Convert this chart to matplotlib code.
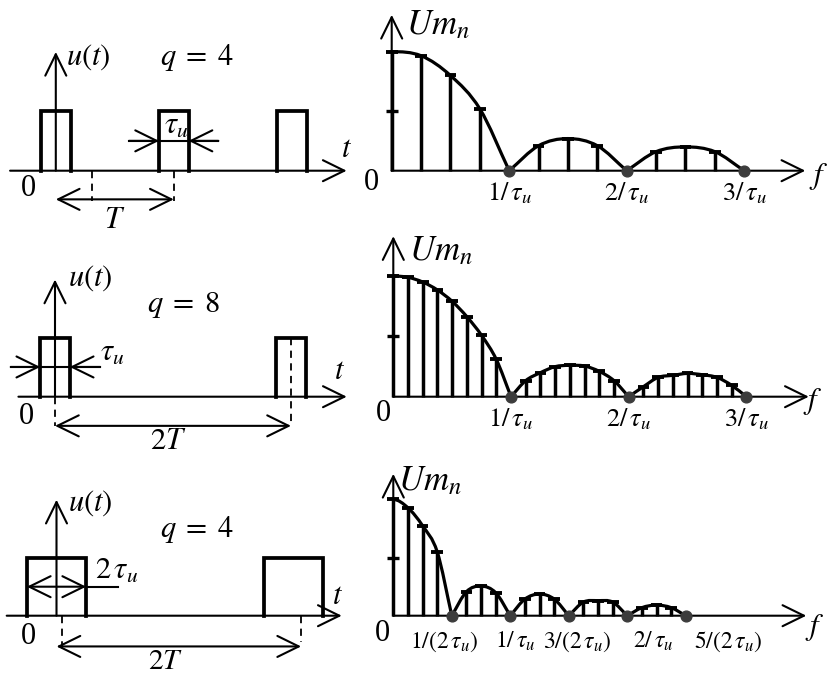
import numpy as np
import matplotlib.pyplot as plt
from matplotlib.path import Path
from matplotlib.patches import PathPatch

plt.rcParams['font.family'] = ['Liberation Serif', 'DejaVu Serif']
plt.rcParams['mathtext.fontset'] = 'stix'

W, H = 829, 675

# ---- time-domain pulses (time in units of tau_u, amplitude 1) ----
centers_1 = [0, 4, 8]
width_1 = 1
centers_2 = [0, 8]
width_2 = 1
centers_3 = [0, 8]
width_3 = 2

# ---- spectra (frequency in units of 1/tau_u, amplitude relative) ----
freq_1 = [0, 0.25, 0.5, 0.75, 1.25, 1.5, 1.75, 2.25, 2.5, 2.75]
amp_1 = [1.0, 0.966, 0.80, 0.52, 0.21, 0.27, 0.21, 0.16, 0.20, 0.16]
zeros_1 = [1, 2, 3]

freq_2 = [0, 0.125, 0.25, 0.375, 0.5, 0.625, 0.75, 0.875,
          1.125, 1.25, 1.375, 1.5, 1.625, 1.75, 1.875,
          2.125, 2.25, 2.375, 2.5, 2.625, 2.75, 2.875]
amp_2 = [1.0, 0.989, 0.95, 0.884, 0.79, 0.663, 0.508, 0.309,
         0.133, 0.199, 0.249, 0.26, 0.254, 0.21, 0.133,
         0.083, 0.16, 0.177, 0.193, 0.182, 0.16, 0.094]
zeros_2 = [1, 2, 3]

freq_3 = [0, 0.125, 0.25, 0.375, 0.625, 0.75, 0.875, 1.125, 1.25, 1.375,
          1.625, 1.75, 1.875, 2.125, 2.25, 2.375]
amp_3 = [1.0, 0.928, 0.774, 0.55, 0.206, 0.255, 0.198, 0.143, 0.186, 0.143,
         0.117, 0.129, 0.117, 0.069, 0.092, 0.069]
zeros_3 = [0.5, 1, 1.5, 2, 2.5]

labels_12 = [r'$1/\,\tau_u$', r'$2/\,\tau_u$', r'$3/\,\tau_u$']
labels_3 = [r'$1/(2\,\tau_u)$', r'$1/\,\tau_u$', r'$3/(2\,\tau_u)$',
            r'$2/\,\tau_u$', r'$5/(2\,\tau_u)$']

fig = plt.figure(figsize=(W / 100, H / 100), dpi=100)


def panel(box, origin, scale):
    # box in picture pixels (x0, y0, x1, y1), origin = pixel of data (0, 0)
    x0, y0, x1, y1 = box
    ax = fig.add_axes([x0 / W, 1 - y1 / H, (x1 - x0) / W, (y1 - y0) / H])
    ox, oy = origin
    sx, sy = scale
    ax.set_xlim((x0 - ox) / sx, (x1 - ox) / sx)
    ax.set_ylim((oy - y1) / sy, (oy - y0) / sy)
    ax.axis('off')
    return ax


def arrow(ax, p0, p1, style='->', lw=1.5):
    ax.annotate('', xy=p1, xytext=p0,
                arrowprops=dict(arrowstyle=style + ',head_length=0.55,head_width=0.27',
                                lw=lw, color='black', shrinkA=0, shrinkB=0,
                                mutation_scale=28))


def pulses(ax, centers, width):
    for c in centers:
        ax.plot([c - width / 2, c - width / 2, c + width / 2, c + width / 2],
                [0, 1, 1, 0], color='black', lw=2.7, solid_joinstyle='miter')


def envelope(ax, xs, ys, start_flat):
    # smooth curve through the points (Catmull-Rom -> cubic Bezier)
    xs = list(xs)
    ys = list(ys)
    if start_flat:
        px, py = [2 * xs[0] - xs[1]], [ys[1]]
    else:
        px, py = [2 * xs[0] - xs[1]], [2 * ys[0] - ys[1]]
    px = px + xs + [2 * xs[-1] - xs[-2]]
    py = py + ys + [2 * ys[-1] - ys[-2]]
    verts = [(xs[0], ys[0])]
    codes = [Path.MOVETO]
    for i in range(1, len(px) - 2):
        p0 = np.array([px[i - 1], py[i - 1]])
        p1 = np.array([px[i], py[i]])
        p2 = np.array([px[i + 1], py[i + 1]])
        p3 = np.array([px[i + 2], py[i + 2]])
        verts += [tuple(p1 + (p2 - p0) / 6), tuple(p2 - (p3 - p1) / 6), tuple(p2)]
        codes += [Path.CURVE4] * 3
    ax.add_patch(PathPatch(Path(verts, codes), fill=False, lw=2.3,
                           edgecolor='black', capstyle='round'))


def spectrum(ax, freq, amp, zeros, ytop, xtip, cap=0.05):
    arrow(ax, (0, 0), (xtip, 0))
    arrow(ax, (0, 0), (0, ytop))
    ax.vlines(freq, 0, amp, color='black', lw=2.5)
    ax.hlines(amp, np.array(freq) - cap, np.array(freq) + cap, color='black', lw=2.8)
    ax.hlines([0.5], -cap, cap, color='black', lw=2.4)
    # envelope, lobe by lobe
    bounds = [0] + list(zeros)
    for k in range(len(bounds) - 1):
        lo, hi = bounds[k], bounds[k + 1]
        pts = [(f, a) for f, a in zip(freq, amp) if lo <= f < hi]
        if k > 0:
            pts = [(lo, 0.0)] + pts
        pts = pts + [(hi, 0.0)]
        envelope(ax, [p[0] for p in pts], [p[1] for p in pts], start_flat=(k == 0))
    ax.scatter(zeros, np.zeros(len(zeros)), s=60, color='#3c3c3c', zorder=5)


txt = dict(fontsize=22, color='black', ha='center', va='center')

# ---------------- top row ----------------
ax = panel((0, 0, 360, 225), (55.8, 170.7), (29.5, 59.7))
arrow(ax, (-1.55, 0), (9.86, 0))
arrow(ax, (0, 0), (0, 1.99))
pulses(ax, centers_1, width_1)
ax.plot([1.23, 1.23], [0, -0.5], 'k--', lw=1.3, dashes=(4, 3))
ax.plot([4, 4], [0, -0.5], 'k--', lw=1.3, dashes=(4, 3))
arrow(ax, (0, -0.48), (4, -0.48), style='<->')
ax.plot([2.48, 5.51], [0.5, 0.5], color='black', lw=1.5)
arrow(ax, (2.48, 0.5), (3.5, 0.5))
arrow(ax, (5.51, 0.5), (4.5, 0.5))
ax.text(1.09, 1.90, r'$u(t)$', **txt)
ax.text(4.79, 1.90, r'$q\;=\;4$', **txt)
ax.text(4.10, 0.74, r'$\tau_u$', **txt)
ax.text(9.87, 0.36, r'$t$', **txt)
ax.text(-0.94, -0.29, '0', **txt)
ax.text(2.0, -0.83, r'$T$', **txt)

ax = panel((360, 0, 829, 225), (391.7, 170.7), (117.5, 119))
spectrum(ax, freq_1, amp_1, zeros_1, 1.31, 3.52)
ax.text(0.12, 1.22, r'$Um_n$', fontsize=25, ha='left', va='center')
ax.text(-0.17, -0.10, '0', **txt)
ax.text(3.63, -0.05, r'$f$', **txt)
for z, lab in zip(zeros_1, labels_12):
    ax.text(z, -0.19, lab, fontsize=19, ha='center', va='center')

# ---------------- middle row ----------------
ax = panel((0, 225, 360, 450), (55, 396.7), (29.5, 58.3))
arrow(ax, (-1.24, 0), (9.89, 0))
arrow(ax, (0, 0), (0, 2.01))
pulses(ax, centers_2, width_2)
ax.plot([0, 0], [0, -0.51], 'k--', lw=1.3, dashes=(4, 3))
ax.plot([8, 8], [1, -0.51], 'k--', lw=1.3, dashes=(4, 3))
arrow(ax, (0, -0.5), (8, -0.5), style='<->')
ax.plot([-1.5, 1.53], [0.51, 0.51], color='black', lw=1.5)
arrow(ax, (-1.5, 0.51), (-0.5, 0.51))
arrow(ax, (1.53, 0.51), (0.5, 0.51))
ax.text(1.19, 2.04, r'$u(t)$', **txt)
ax.text(4.34, 1.57, r'$q\;=\;8$', **txt)
ax.text(1.93, 0.74, r'$\tau_u$', **txt)
ax.text(9.66, 0.43, r'$t$', **txt)
ax.text(-0.96, -0.34, '0', **txt)
ax.text(3.83, -0.76, r'$2T$', **txt)

ax = panel((360, 225, 829, 450), (393.3, 396.7), (117.7, 120.7))
spectrum(ax, freq_2, amp_2, zeros_2, 1.33, 3.53)
ax.text(0.13, 1.20, r'$Um_n$', fontsize=25, ha='left', va='center')
ax.text(-0.085, -0.14, '0', **txt)
ax.text(3.56, -0.04, r'$f$', **txt)
for z, lab in zip(zeros_2, labels_12):
    ax.text(z, -0.19, lab, fontsize=19, ha='center', va='center')

# ---------------- bottom row ----------------
ax = panel((0, 450, 360, 675), (56.5, 615.7), (29.65, 58))
arrow(ax, (-1.68, 0), (9.62, 0))
arrow(ax, (0, 0), (0, 2.0))
pulses(ax, centers_3, width_3)
ax.plot([0.2, 0.2], [0, -0.64], 'k--', lw=1.3, dashes=(4, 3))
ax.plot([8.25, 8.25], [0, -0.45], 'k--', lw=1.3, dashes=(4, 3))
arrow(ax, (0, -0.53), (8.25, -0.53), style='<->')
ax.plot([1, 2.08], [0.5, 0.5], color='black', lw=1.5)
arrow(ax, (-1, 0.5), (1, 0.5), style='<->')
ax.text(1.13, 1.94, r'$u(t)$', **txt)
ax.text(4.73, 1.48, r'$q\;=\;4$', **txt)
ax.text(2.03, 0.76, r'$2\,\tau_u$', **txt)
ax.text(9.49, 0.33, r'$t$', **txt)
ax.text(-0.96, -0.36, '0', **txt)
ax.text(3.66, -0.79, r'$2T$', fontsize=21, ha='center', va='center')

ax = panel((360, 450, 829, 675), (393.3, 615.7), (117, 116.3))
spectrum(ax, freq_3, amp_3, zeros_3, 1.22, 3.53)
ax.text(0.04, 1.15, r'$Um_n$', fontsize=25, ha='left', va='center')
ax.text(-0.09, -0.15, '0', **txt)
ax.text(3.6, -0.10, r'$f$', **txt)
label_x_3 = [0.44, 1.04, 1.57, 2.22, 2.86]
for x, lab in zip(label_x_3, labels_3):
    ax.text(x, -0.22, lab, fontsize=17, ha='center', va='center')

fig.savefig('out.png', dpi=100, facecolor='white')
